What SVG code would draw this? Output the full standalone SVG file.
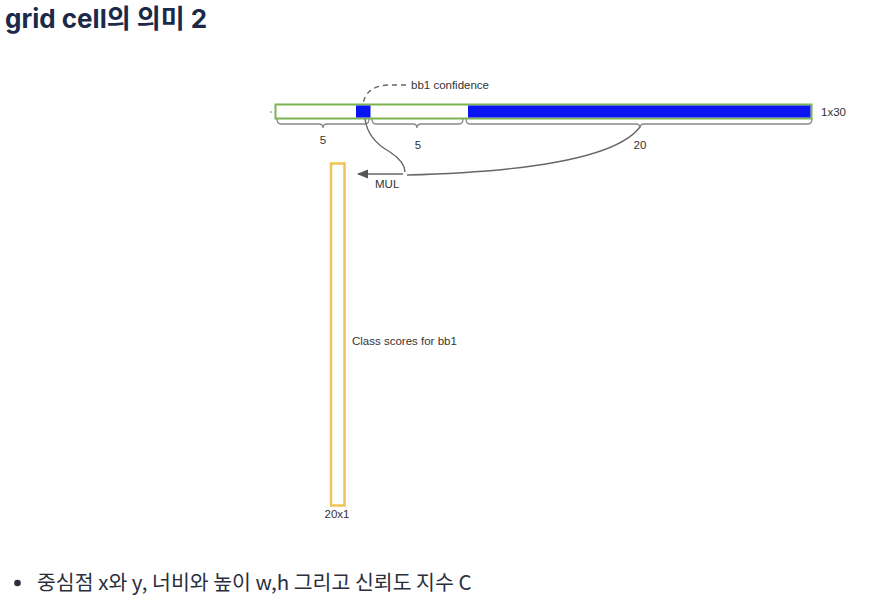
<svg xmlns="http://www.w3.org/2000/svg" width="877" height="602" viewBox="0 0 877 602">
<style>
.lbl{font-family:"Liberation Sans",Arial,sans-serif;font-size:11.5px;fill:#333}
.brace{fill:none;stroke:#888;stroke-width:1.3}
.conn{fill:none;stroke:#666;stroke-width:1.4}
</style>
<defs>
<marker id="ah" viewBox="0 0 10 10" refX="9" refY="5" markerWidth="8" markerHeight="8" orient="auto"><path d="M0,1 L10,5 L0,9 Z" fill="#555"/></marker>
</defs>
<rect width="877" height="602" fill="#fff"/>
<text x="5" y="28" font-family="Inter,'Noto Sans CJK KR',sans-serif" font-weight="700" font-size="26" fill="#1c2a4a">grid cell의 의미 2</text>

<g id="bar">
<rect x="275.5" y="104.5" width="536" height="14" fill="#fff" stroke="#7cb450" stroke-width="2"/>
<rect x="356" y="105.5" width="14.5" height="12" fill="#0a14f0"/>
<rect x="468" y="105.5" width="342.5" height="12" fill="#0a14f0"/>
<line x1="270" y1="112" x2="272" y2="112" stroke="#888" stroke-width="1"/>
<text class="lbl" x="821" y="116">1x30</text>
</g>

<g id="braces">
<path class="brace" d="M277,119 q0,5 4,5 h38 q4,0 4,4 q0,-4 4,-4 h38 q4,0 4,-5"/>
<text class="lbl" x="323" y="144" text-anchor="middle">5</text>
<path class="brace" d="M372,119 q0,5 4,5 h37 q4,0 4,4 q0,-4 4,-4 h38 q4,0 4,-5"/>
<text class="lbl" x="418" y="149" text-anchor="middle">5</text>
<path class="brace" d="M466,119 q0,5 4,5 h166 q4,0 4,4 q0,-4 4,-4 h164 q4,0 4,-5"/>
<text class="lbl" x="640" y="149" text-anchor="middle">20</text>
</g>

<g id="conf-label">
<text class="lbl" x="411" y="89">bb1 confidence</text>
</g>

<g id="class-scores">
<rect x="331" y="163.5" width="13.5" height="342" fill="none" stroke="#f0c555" stroke-width="2.5"/>
<text class="lbl" x="352" y="345">Class scores for bb1</text>
<text class="lbl" x="337" y="518" text-anchor="middle">20x1</text>
</g>

<g id="connectors">
<path class="conn" d="M406,85 H388 Q366,86 363,104" stroke-dasharray="5,4"/>
<path class="conn" d="M365,119 Q368,140 390,152 Q405,162 405,172"/>
<path class="conn" d="M407,175 C520,172 615,160 640,127"/>
<line class="conn" x1="403" y1="174" x2="358" y2="174" marker-end="url(#ah)"/>
<text class="lbl" x="375" y="188">MUL</text>
</g>

<g id="bullet">
<circle cx="17.5" cy="583" r="3.3" fill="#2a2f3d"/>
<text x="37" y="590" font-family="'Noto Sans CJK KR','Noto Sans',sans-serif" font-size="20.5" font-weight="400" fill="#2a2f3d">중심점 x와 y, 너비와 높이 w,h 그리고 신뢰도 지수 C</text>
</g>
</svg>
